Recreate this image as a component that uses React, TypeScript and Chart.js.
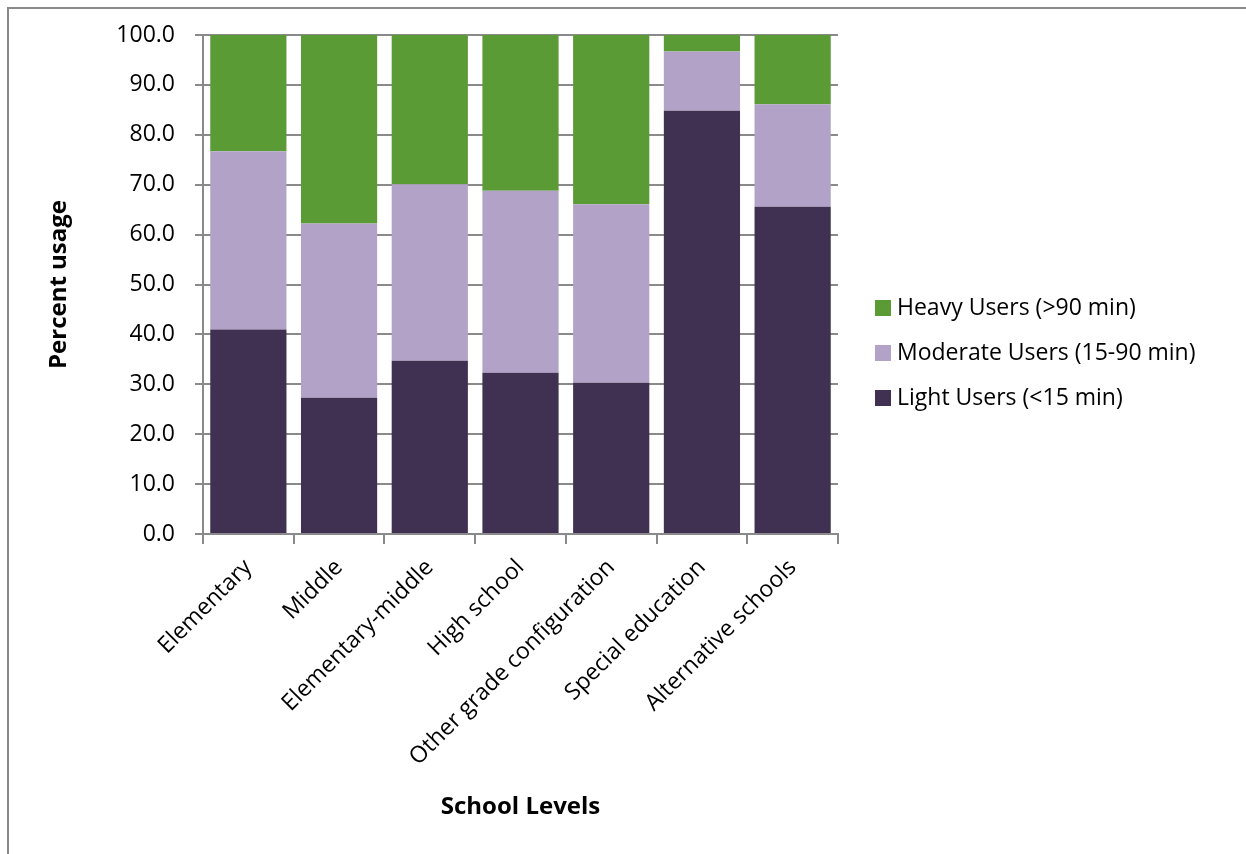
import React, { useEffect, useRef } from "react";
import { Chart, registerables } from "chart.js";

Chart.register(...registerables);

const categories = [
  "Elementary",
  "Middle",
  "Elementary-middle",
  "High school",
  "Other grade configuration",
  "Special education",
  "Alternative schools",
];
const lightUsers = [41.0, 27.3, 34.7, 32.3, 30.3, 84.8, 65.6];
const moderateUsers = [35.7, 34.9, 35.4, 36.5, 35.8, 11.9, 20.5];
const heavyUsers = [23.3, 37.8, 29.9, 31.2, 33.9, 3.3, 13.9];
const yTicks = [0, 10, 20, 30, 40, 50, 60, 70, 80, 90, 100];

const FONT = "'Open Sans', Lato, sans-serif";
const GRID = "#8a8a8a";

const framePlugin = {
  id: "frame",
  beforeDraw(chart: any) {
    const ctx = chart.ctx;
    ctx.save();
    ctx.fillStyle = "#ffffff";
    ctx.fillRect(0, 0, chart.width, chart.height);
    ctx.strokeStyle = "#8a8a8a";
    ctx.lineWidth = 2;
    ctx.strokeRect(8, 8, chart.width + 20, chart.height + 20);
    ctx.restore();
  },
};

const legendPlugin = {
  id: "customLegend",
  afterDraw(chart: any) {
    const ctx = chart.ctx;
    const items = [...chart.data.datasets].reverse();
    const ys = [308, 353, 398];
    ctx.save();
    ctx.font = `23px ${FONT}`;
    ctx.textBaseline = "middle";
    ctx.textAlign = "left";
    items.forEach((ds: any, i: number) => {
      ctx.fillStyle = ds.backgroundColor;
      ctx.fillRect(875, ys[i] - 8, 16, 16);
      ctx.fillStyle = "#000000";
      ctx.fillText(ds.label, 897, ys[i]);
    });
    ctx.restore();
  },
};

export default function App() {
  const ref = useRef<HTMLCanvasElement | null>(null);

  useEffect(() => {
    if (!ref.current) return;
    const chart = new Chart(ref.current, {
      type: "bar",
      data: {
        labels: categories,
        datasets: [
          { label: "Light Users (<15 min)", data: lightUsers, backgroundColor: "#403152" },
          { label: "Moderate Users (15-90 min)", data: moderateUsers, backgroundColor: "#b2a2c7" },
          { label: "Heavy Users (>90 min)", data: heavyUsers, backgroundColor: "#5a9b36" },
        ],
      },
      options: {
        responsive: false,
        animation: false,
        layout: { padding: { left: 0, right: 408, top: 35, bottom: 0 } },
        datasets: { bar: { categoryPercentage: 1, barPercentage: 0.84 } },
        plugins: { legend: { display: false }, tooltip: { enabled: false } },
        scales: {
          x: {
            stacked: true,
            afterFit(scale: any) {
              scale.height = 320;
            },
            grid: {
              offset: true,
              drawOnChartArea: false,
              drawTicks: true,
              tickLength: 10,
              color: GRID,
              lineWidth: 2,
            },
            border: { color: GRID, width: 2 },
            ticks: {
              minRotation: 45,
              maxRotation: 45,
              autoSkip: false,
              color: "#000",
              padding: 10,
              font: { family: FONT, size: 23 },
            },
            title: {
              display: true,
              text: "School Levels",
              color: "#000",
              font: { family: FONT, size: 24, weight: "bold" },
              padding: { top: 0, bottom: 32 },
            },
          },
          y: {
            stacked: true,
            min: 0,
            max: 100,
            afterFit(scale: any) {
              scale.width = 203;
            },
            afterBuildTicks(scale: any) {
              scale.ticks = yTicks.map((v) => ({ value: v }));
            },
            grid: { color: GRID, lineWidth: 2, tickLength: 8 },
            border: { color: GRID, width: 2 },
            ticks: {
              color: "#000",
              padding: 20,
              font: { family: FONT, size: 23 },
              callback: (v: any) => Number(v).toFixed(1),
            },
            title: {
              display: true,
              text: "Percent usage",
              color: "#000",
              font: { family: FONT, size: 24, weight: "bold" },
              padding: { top: 45, bottom: 0 },
            },
          },
        },
      },
      plugins: [framePlugin, legendPlugin],
    });
    return () => chart.destroy();
  }, []);

  return (
    <div style={{ position: "absolute", left: 0, top: 0, width: 1246, height: 854 }}>
      <canvas ref={ref} width={1246} height={854} />
    </div>
  );
}
